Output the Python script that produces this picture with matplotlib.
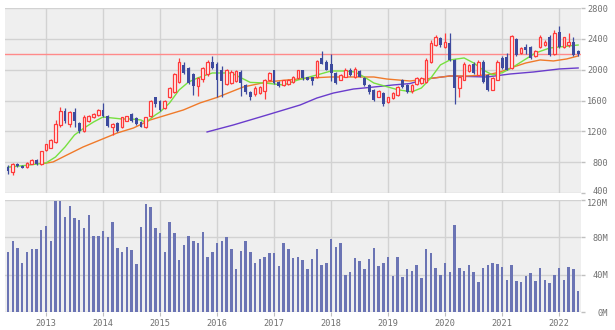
import numpy as np
import matplotlib
matplotlib.use("Agg")
import matplotlib.pyplot as plt
import matplotlib.transforms as mtransforms

# Monthly OHLC, May 2012 - May 2022
opens = [740, 670, 770, 750, 740, 780, 825, 770, 960, 990,
         1060, 1280, 1470, 1290, 1450, 1310, 1210, 1330, 1380, 1410,
         1480, 1400, 1260, 1310, 1250, 1340, 1430, 1370, 1320, 1250,
         1400, 1640, 1600, 1500, 1640, 1710, 1840, 2060, 2020, 1950,
         1790, 1880, 1940, 2100, 2080, 1990, 1820, 1830, 1850, 1970,
         1800, 1710, 1680, 1700, 1720, 1870, 1990, 1840, 1800, 1810,
         1840, 1890, 1990, 1900, 1900, 1900, 2150, 2100, 2080, 1960,
         1870, 1910, 2000, 1900, 1980, 1890, 1800, 1740, 1650, 1700,
         1580, 1630, 1670, 1860, 1800, 1720, 1820, 1830, 1840, 2100,
         2320, 2410, 2290, 2350, 2130, 1760, 1870, 1980, 2080, 1930,
         2100, 1930, 1740, 1870, 2150, 2160, 2020, 2400, 2210, 2300,
         2300, 2180, 2290, 2320, 2420, 2200, 2490, 2290, 2320, 2360,
         2240]
highs = [760, 790, 790, 760, 800, 840, 840, 950, 1040, 1095,
         1345, 1520, 1500, 1470, 1500, 1320, 1410, 1415, 1440, 1495,
         1570, 1410, 1310, 1320, 1390, 1400, 1440, 1380, 1330, 1390,
         1610, 1650, 1610, 1610, 1770, 1960, 2150, 2100, 2040, 1960,
         1900, 2040, 2130, 2180, 2100, 2050, 2010, 2000, 2000, 1990,
         1810, 1720, 1790, 1790, 1880, 1970, 2000, 1850, 1870, 1880,
         1920, 2000, 2000, 1910, 1910, 2130, 2240, 2120, 2200, 1970,
         1950, 2020, 2020, 2030, 2000, 1900, 1810, 1750, 1730, 1710,
         1650, 1710, 1790, 1880, 1810, 1810, 1910, 1900, 2150, 2390,
         2450, 2420, 2480, 2480, 2140, 1910, 2100, 2080, 2100, 2120,
         2120, 1940, 1900, 2130, 2180, 2220, 2450, 2410, 2300, 2330,
         2310, 2260, 2450, 2380, 2450, 2520, 2570, 2430, 2480, 2420,
         2260]
lows = [650, 640, 740, 720, 730, 770, 760, 760, 950, 980,
        1050, 1250, 1310, 1250, 1260, 1180, 1190, 1320, 1370, 1400,
        1380, 1250, 1150, 1190, 1240, 1330, 1320, 1280, 1250, 1240,
        1390, 1520, 1470, 1490, 1630, 1700, 1830, 1950, 1820, 1670,
        1660, 1840, 1920, 2010, 1640, 1650, 1800, 1810, 1840, 1660,
        1680, 1610, 1660, 1690, 1620, 1860, 1820, 1780, 1790, 1800,
        1830, 1880, 1870, 1860, 1800, 1890, 2070, 1990, 1850, 1820,
        1860, 1900, 1920, 1890, 1900, 1790, 1690, 1590, 1640, 1530,
        1570, 1620, 1660, 1760, 1700, 1700, 1800, 1820, 1830, 2090,
        2310, 2300, 2280, 2110, 1560, 1640, 1860, 1970, 1950, 1920,
        1830, 1720, 1730, 1860, 2010, 1990, 2010, 2180, 2200, 2200,
        2140, 2170, 2280, 2310, 2180, 2190, 2280, 2280, 2290, 2180,
        2180]
closes = [680, 775, 755, 730, 785, 825, 770, 940, 1030, 1085,
          1290, 1460, 1330, 1445, 1330, 1200, 1390, 1400, 1430, 1480,
          1400, 1270, 1300, 1210, 1380, 1395, 1330, 1290, 1260, 1380,
          1600, 1560, 1480, 1600, 1760, 1950, 2100, 1960, 1830, 1790,
          1890, 2020, 2100, 2020, 1870, 1850, 1990, 1970, 1980, 1830,
          1710, 1650, 1760, 1770, 1860, 1960, 1830, 1790, 1860, 1870,
          1910, 1990, 1890, 1870, 1850, 2110, 2080, 2000, 1960, 1830,
          1930, 2000, 1930, 2010, 1910, 1800, 1710, 1610, 1720, 1550,
          1640, 1700, 1780, 1770, 1710, 1800, 1890, 1890, 2130, 2350,
          2430, 2320, 2360, 2130, 1760, 1900, 2080, 2060, 1960, 2100,
          1840, 1740, 1890, 2100, 2020, 2000, 2440, 2190, 2280, 2260,
          2150, 2240, 2420, 2360, 2190, 2480, 2290, 2420, 2360, 2190,
          2200]

# Monthly volume (millions)
volumes = [64, 76, 69, 53, 64, 68, 67, 88, 92, 76,
           119, 119, 102, 114, 101, 99, 90, 104, 81, 81,
           87, 80, 96, 69, 64, 70, 66, 51, 91, 116,
           112, 90, 85, 64, 96, 85, 56, 72, 81, 76,
           74, 86, 59, 64, 74, 76, 80, 68, 46, 65,
           76, 64, 52, 57, 59, 63, 63, 49, 74, 68,
           58, 59, 56, 46, 57, 67, 50, 52, 78, 70,
           74, 40, 43, 58, 55, 46, 57, 69, 49, 52,
           59, 39, 59, 37, 46, 44, 50, 36, 68, 63,
           47, 40, 53, 43, 93, 47, 44, 50, 43, 32,
           47, 50, 52, 51, 48, 34, 50, 33, 32, 39,
           42, 33, 47, 34, 31, 40, 47, 34, 48, 46,
           22]

# Moving averages, (month index, value)
ma_short_idx = [0, 4, 8, 10, 12, 14, 16, 18, 20, 22, 24, 26, 28, 29, 31, 32, 34, 36, 38,
                40, 43, 47, 51, 54, 58, 61, 65, 68, 71, 73, 75, 77, 80, 82, 85, 87, 89,
                91, 93, 96, 98, 100, 102, 104, 106, 108, 111, 114, 116, 120]
ma_short = [735, 760, 790, 867, 997, 1153, 1243, 1321, 1386, 1373, 1360, 1360, 1347, 1315, 1412, 1451, 1568, 1736, 1840,
            1895, 1957, 1957, 1835, 1827, 1801, 1866, 1931, 1983, 1983, 1970, 1905, 1827, 1775, 1740, 1712, 1762, 1892,
            2061, 2126, 2152, 2087, 1996, 1931, 1960, 2022, 2100, 2216, 2281, 2294, 2320]
ma_mid_idx = [7, 9.5, 12.4, 15.8, 19.4, 23, 26.4, 29.9, 33.4, 36.9, 40.4, 44, 49.5, 54.5, 58.7,
              63.6, 67.8, 73.4, 77, 79.7, 84.6, 88, 93, 96.6, 100.8, 103.6, 106.4, 109, 112,
              114.8, 117.6, 120]
ma_mid = [777, 803, 893, 997, 1088, 1179, 1243, 1347, 1412, 1477, 1568, 1640, 1775, 1840, 1866,
          1892, 1905, 1905, 1905, 1879, 1853, 1879, 1918, 1918, 1931, 1970, 2035, 2087, 2126,
          2113, 2139, 2178]
ma_long_idx = [41.9, 47.4, 54.5, 61.5, 65, 68.5, 72.7, 77, 81, 84.6, 88, 93, 100.8, 105.7, 110.6, 116, 120]
ma_long = [1192, 1282, 1412, 1542, 1632, 1697, 1749, 1775, 1801, 1820, 1879, 1918, 1905, 1944, 1970, 2009, 2022]

years = ["2013", "2014", "2015", "2016", "2017", "2018", "2019", "2020", "2021", "2022"]
price_ticks = [400, 800, 1200, 1600, 2000, 2400, 2800]
vol_ticks = [0, 40, 80, 120]

# Styles
up_col = "#ff3b3b"
up_face = "#fff2f2"
down_col = "#3d4a9e"
vol_col = "#6b74b4"
grid_col = "#d2d2d2"
panel_col = "#efefef"
label_col = "#707070"

plt.rcParams["font.family"] = "DejaVu Sans Mono"

fig = plt.figure(figsize=(6.15, 3.30), dpi=100)
ax1 = fig.add_axes([5/615, 137/330, 576/615, 185/330])
ax2 = fig.add_axes([5/615, 18/330, 576/615, 112/330])

x = np.arange(len(closes))
o = np.array(opens)
c = np.array(closes)
h = np.array(highs)
l = np.array(lows)
up = c >= o
year_pos = [8 + 12*k for k in range(len(years))]

for ax in (ax1, ax2):
    ax.set_facecolor(panel_col)
    ax.set_xlim(-0.63, 120.6)
    for s in ax.spines.values():
        s.set_visible(False)
    ax.set_axisbelow(True)
    ax.grid(True, color=grid_col, linewidth=1)
    ax.yaxis.tick_right()
    ax.tick_params(axis="y", direction="out", length=3, width=1, color="#c0c0c0",
                   labelsize=6.2, labelcolor=label_col, pad=16.5)
    ax.set_xticks(year_pos)

ax1.tick_params(axis="x", length=0, labelbottom=False)
ax2.tick_params(axis="x", direction="out", length=3, color="#c0c0c0",
                labelsize=6.2, labelcolor=label_col, pad=2)
ax2.set_xticklabels(years)

# Price panel
ax1.set_ylim(400, 2800)
ax1.set_yticks(price_ticks)
ax1.set_yticklabels([str(p) for p in price_ticks])

ax1.axhline(closes[-1], color="#ff8a8a", linewidth=1, zorder=2)

ax1.plot(ma_long_idx, ma_long, color="#6a3ccc", linewidth=1, zorder=3)
ax1.plot(ma_mid_idx, ma_mid, color="#f07a2a", linewidth=1, zorder=3)
ax1.plot(ma_short_idx, ma_short, color="#77e040", linewidth=1, zorder=3)

ax1.vlines(x[up], l[up], h[up], color=up_col, linewidth=0.9, zorder=4)
ax1.vlines(x[~up], l[~up], h[~up], color=down_col, linewidth=0.9, zorder=4)
body = np.maximum(np.abs(c - o), 8)
ax1.bar(x[up], body[up], bottom=np.minimum(o, c)[up], width=0.55,
        facecolor=up_face, edgecolor=up_col, linewidth=0.9, zorder=5)
ax1.bar(x[~up], body[~up], bottom=np.minimum(o, c)[~up], width=0.6,
        color=down_col, linewidth=0, zorder=5)

# Volume panel
ax2.set_ylim(0, 120)
ax2.set_yticks(vol_ticks)
ax2.set_yticklabels([f"{v}M" for v in vol_ticks])
ax2.bar(x, volumes, width=0.52, color=vol_col, linewidth=0, zorder=3)

# right-aligned axis labels; nudge the two labels that meet between panels
for ax in (ax1, ax2):
    for t in ax.get_yticklabels():
        t.set_horizontalalignment("right")
lbl_low = ax1.get_yticklabels()[0]
lbl_low.set_transform(lbl_low.get_transform() + mtransforms.ScaledTranslation(0, 1.5/72, fig.dpi_scale_trans))
lbl_top = ax2.get_yticklabels()[-1]
lbl_top.set_transform(lbl_top.get_transform() + mtransforms.ScaledTranslation(0, -1.5/72, fig.dpi_scale_trans))

plt.savefig("out.png", dpi=100)
